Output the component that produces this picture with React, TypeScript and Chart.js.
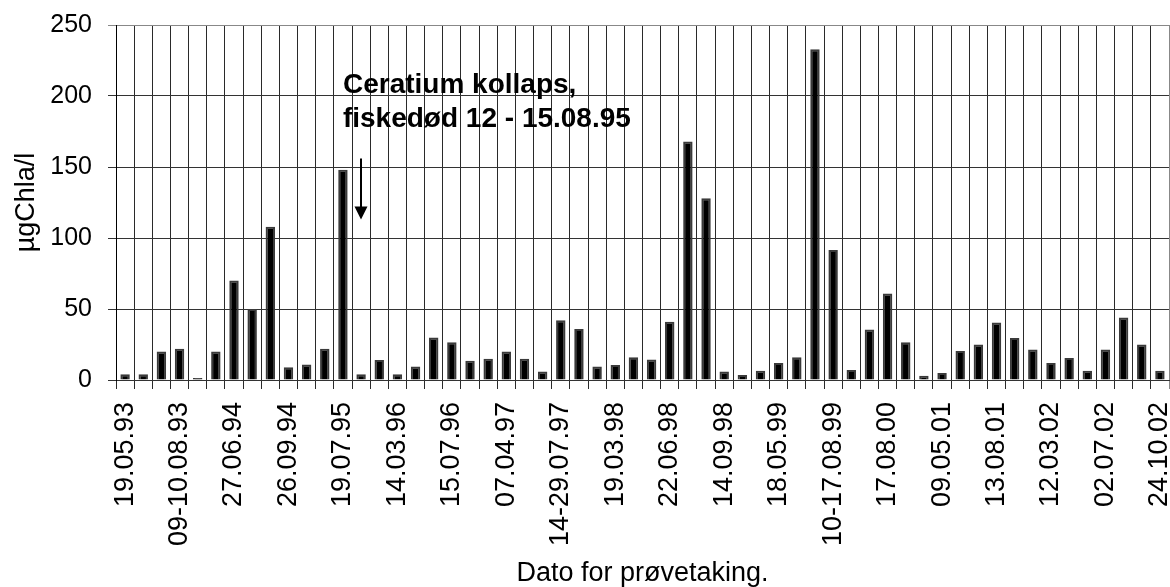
import React, { useEffect, useRef } from "react";
import { Chart, registerables } from "chart.js";

Chart.register(...registerables);

const tickLabels = [
  "19.05.93", "09-10.08.93", "27.06.94", "26.09.94", "19.07.95",
  "14.03.96", "15.07.96", "07.04.97", "14-29.07.97", "19.03.98",
  "22.06.98", "14.09.98", "18.05.99", "10-17.08.99", "17.08.00",
  "09.05.01", "13.08.01", "12.03.02", "02.07.02", "24.10.02",
];

const values = [
  4, 4, 20, 22, 1, 20, 70, 50, 108, 9,
  11, 22, 148, 4, 14, 4, 9.5, 30, 26.5, 13.5,
  15, 20, 15, 6, 42, 36, 9.5, 10.5, 16, 14.5,
  41, 168, 128, 6, 3.5, 6.5, 12, 16, 233, 91.5,
  7, 35.5, 61, 26.5, 3, 5, 20.5, 25, 40.5, 29.5,
  21.5, 12, 15.5, 6.5, 21.5, 44, 25, 6.5,
];

const labelEvery = 3;
const categories = values.map((_, i) => (i % labelEvery === 0 ? tickLabels[i / labelEvery] : ""));

const yTitle = "µgChla/l";
const xTitle = "Dato for prøvetaking.";
const yMax = 250;
const yStep = 50;

const noteLines = ["Ceratium kollaps,", "fiskedød 12 - 15.08.95"];
const noteIndex = 12;
const noteBaselines = [202, 178];
const arrowIndex = 13;
const arrowFrom = 156;
const arrowTo = 113;

const FONT = "'Liberation Sans', Arial, sans-serif";

const Y_AXIS_WIDTH = 116;
const X_AXIS_HEIGHT = 207;

const notePlugin = {
  id: "note",
  afterDraw(chart: any) {
    const { ctx, scales } = chart;
    const x = scales.x;
    const y = scales.y;
    ctx.save();
    ctx.fillStyle = "#000";
    ctx.font = `bold 28px ${FONT}`;
    ctx.textAlign = "left";
    ctx.textBaseline = "alphabetic";
    const tx = x.getPixelForValue(noteIndex);
    noteLines.forEach((line, i) => {
      ctx.fillText(line, tx, y.getPixelForValue(noteBaselines[i]));
    });
    const ax = Math.round(x.getPixelForValue(arrowIndex));
    const y0 = y.getPixelForValue(arrowFrom);
    const y1 = y.getPixelForValue(arrowTo);
    ctx.strokeStyle = "#000";
    ctx.lineWidth = 2;
    ctx.beginPath();
    ctx.moveTo(ax, y0);
    ctx.lineTo(ax, y1 - 10);
    ctx.stroke();
    ctx.beginPath();
    ctx.moveTo(ax - 6.5, y1 - 13);
    ctx.lineTo(ax + 6.5, y1 - 13);
    ctx.lineTo(ax, y1);
    ctx.closePath();
    ctx.fill();
    ctx.restore();
  },
};

export default function App() {
  const ref = useRef<HTMLCanvasElement | null>(null);

  useEffect(() => {
    if (!ref.current) return;
    const chart = new Chart(ref.current, {
      type: "bar",
      data: {
        labels: categories,
        datasets: [
          {
            data: values,
            backgroundColor: "#000",
            borderColor: "#3a3a3a",
            borderWidth: 2,
            barPercentage: 0.52,
            categoryPercentage: 1,
            minBarLength: 2,
          },
        ],
      },
      options: {
        animation: false,
        responsive: false,
        layout: { padding: { left: 0, right: 1, top: 25, bottom: 0 } },
        plugins: {
          legend: { display: false },
          tooltip: { enabled: false },
        },
        scales: {
          x: {
            offset: true,
            afterFit: (scale: any) => {
              scale.paddingRight = 0;
              scale.paddingLeft = 0;
              scale.height = X_AXIS_HEIGHT;
            },
            grid: {
              offset: true,
              drawOnChartArea: true,
              tickLength: 9,
              color: (c: any) => (c.type === "tick" ? "#2a2a2a" : "#888"),
              lineWidth: 1,
            },
            border: { color: "#333", width: 1 },
            ticks: {
              autoSkip: false,
              minRotation: 90,
              maxRotation: 90,
              padding: 13,
              color: "#000",
              font: { family: FONT, size: 27 },
            },
            title: {
              display: true,
              text: xTitle,
              color: "#000",
              font: { family: FONT, size: 27 },
              padding: { top: 4, bottom: -3 },
            },
          },
          y: {
            min: 0,
            max: yMax,
            afterFit: (scale: any) => {
              scale.paddingTop = 0;
              scale.paddingBottom = 0;
              scale.width = Y_AXIS_WIDTH;
            },
            ticks: {
              stepSize: yStep,
              padding: 16,
              color: "#000",
              font: { family: FONT, size: 25 },
            },
            grid: {
              tickLength: 8,
              color: (c: any) => (c.tick && c.tick.value === yMax ? "#888" : "#333"),
              lineWidth: 1,
            },
            border: { color: "#000", width: 1 },
            title: {
              display: true,
              text: yTitle,
              color: "#000",
              font: { family: FONT, size: 27 },
              padding: { top: 10, bottom: 0 },
            },
          },
        },
      },
      plugins: [notePlugin],
    });
    return () => chart.destroy();
  }, []);

  return (
    <div style={{ position: "fixed", left: 0, top: 0, width: 1170, height: 587, background: "#fff", overflow: "hidden" }}>
      <canvas ref={ref} width={1170} height={587} style={{ display: "block" }} />
    </div>
  );
}
